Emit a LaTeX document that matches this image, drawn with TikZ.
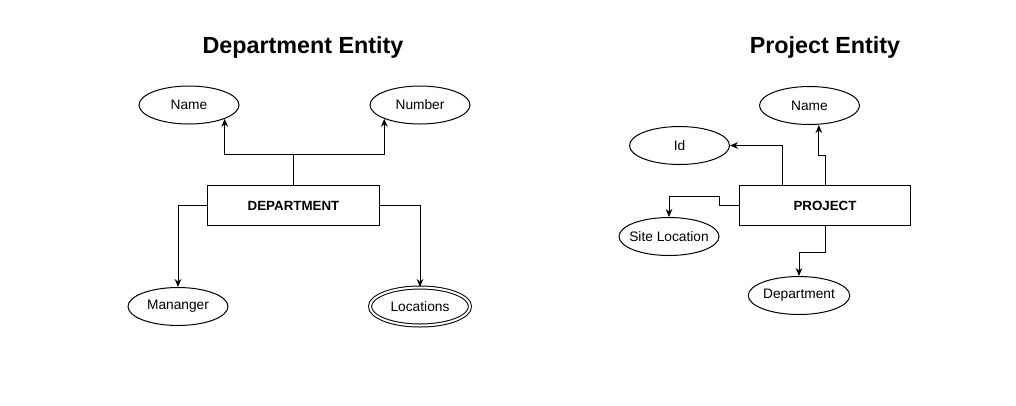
\documentclass[tikz,border=0pt]{standalone}
\usepackage{fontspec}
\setmainfont{Liberation Sans}
\usetikzlibrary{shapes.geometric,arrows.meta}
\begin{document}
\begin{tikzpicture}[x=0.75pt,y=-0.75pt,
  attr/.style={ellipse,draw,line width=0.75pt,minimum width=75pt,minimum height=28.5pt,inner sep=0pt,font=\fontsize{10.3}{12}\selectfont},
  ent/.style={rectangle,draw,line width=0.75pt,minimum width=128.5pt,minimum height=30.5pt,inner sep=0pt,font=\bfseries\fontsize{10}{12}\selectfont},
  ttl/.style={font=\bfseries\fontsize{17.5}{20}\selectfont,inner sep=0pt},
  conn/.style={line width=0.75pt},
  arr/.style={conn,-{Stealth[length=6pt,width=5pt]}}]
\useasboundingbox (0,0) rectangle (1016,405);
% Department
\node[ttl] (t1) at (303,47.5) {Department Entity};
\node[ent] (dept) at (293.5,205.5) {DEPARTMENT};
\node[attr] (dname) at (189,105) {Name};
\node[attr] (dnum) at (420,105) {Number};
\node[attr] (mgr) at (178,306.5) {Mananger};
\node[attr,double,double distance=1.5pt] (loc) at (420,306.5) {Locations};
\draw[conn] (dept.north) -- ++(0,-30) coordinate (j);
\draw[arr] (j) -| (dname.south east);
\draw[arr] (j) -| (dnum.south west);
\draw[arr] (dept.west) -| (mgr.north);
\draw[arr] (dept.east) -| (loc.north);
% Project
\node[ttl] (t2) at (825,47.5) {Project Entity};
\node[ent] (proj) at (825,205.5) {PROJECT};
\node[attr] (pname) at (809.5,105.5) {Name};
\node[attr] (pid) at (679.5,145.5) {Id};
\node[attr] (site) at (669,236.5) {\makebox[0pt]{Site Location}};
\node[attr] (pdept) at (799,295.5) {Department};
\draw[arr] ([xshift=-32.25pt]proj.north) |- (pid.east);
\draw[arr] (proj.north) -- ++(0,-29) -| ([xshift=7pt]pname.south);
\draw[arr] (proj.west) -- ++(-19,0) -- ++(0,-9) -| (site.north);
\draw[arr] (proj.south) -- ++(0,26) -| (pdept.north);
\end{tikzpicture}
\end{document}
